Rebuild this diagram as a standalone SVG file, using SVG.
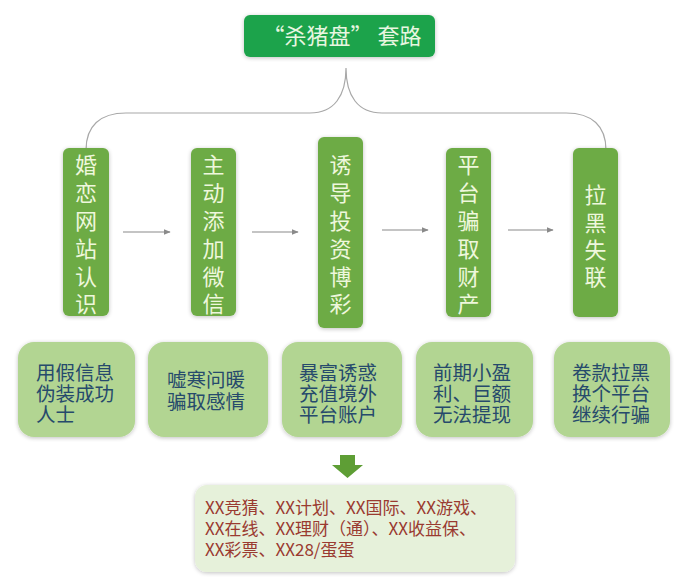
<svg xmlns="http://www.w3.org/2000/svg" width="696" height="578" viewBox="0 0 696 578">
<defs>
<marker id="ah" viewBox="0 0 10 10" refX="9" refY="5" markerWidth="7" markerHeight="7" orient="auto" markerUnits="userSpaceOnUse">
<path d="M0,1 L10,5 L0,9 Z" fill="#8a8a8a"/>
</marker>
<filter id="soft" x="-10%" y="-10%" width="120%" height="120%">
<feGaussianBlur in="SourceAlpha" stdDeviation="2"/>
<feOffset dx="0" dy="1"/>
<feComponentTransfer><feFuncA type="linear" slope="0.25"/></feComponentTransfer>
<feMerge><feMergeNode/><feMergeNode in="SourceGraphic"/></feMerge>
</filter>
</defs>
<style>
text{font-family:"Noto Sans CJK SC","Liberation Sans",sans-serif;}
.title{fill:#1fa34b;}
.step{fill:#6dab45;}
.vt{font-size:22px;fill:#eef7dc;text-anchor:middle;}
.desc{fill:#b2d592;}
.dt{font-size:19.5px;fill:#264a6c;text-anchor:middle;}
.conn{fill:none;stroke:#8a8a8a;stroke-width:1.2;}
.brace{fill:none;stroke:#a8a8a8;stroke-width:1.2;}
.list{fill:#e6f1da;}
.lt{font-size:17px;fill:#9a3a30;}
</style>
<rect width="696" height="578" fill="#ffffff"/>

<g id="title">
<rect class="title" x="244" y="15" width="191" height="42" rx="6" filter="url(#soft)"/>
<text x="342" y="44" font-size="22" fill="#e8f6e0" text-anchor="middle">“杀猪盘” 套路</text>
</g>

<g id="connectors">
<path class="brace" d="M86,150 C86,126 100,113 126,113 L310,113 C334,113 346,96 346,68 C346,96 358,113 382,113 L566,113 C592,113 606,126 606,150"/>
<line class="conn" x1="123" y1="232" x2="170" y2="232" marker-end="url(#ah)"/>
<line class="conn" x1="252" y1="232" x2="298" y2="232" marker-end="url(#ah)"/>
<line class="conn" x1="382" y1="230" x2="428" y2="230" marker-end="url(#ah)"/>
<line class="conn" x1="508" y1="230" x2="553" y2="230" marker-end="url(#ah)"/>
<path d="M340,455 L355,455 L355,465 L363,465 L347.5,478 L332,465 L340,465 Z" fill="#5e9e35"/>
</g>

<g id="step1">
<rect class="step" x="63" y="148" width="46" height="168" rx="6" filter="url(#soft)"/>
<text class="vt"><tspan x="86" y="173">婚</tspan><tspan x="86" y="201">恋</tspan><tspan x="86" y="229">网</tspan><tspan x="86" y="257">站</tspan><tspan x="86" y="285">认</tspan><tspan x="86" y="312">识</tspan></text>
</g>
<g id="step2">
<rect class="step" x="191" y="148" width="45" height="168" rx="6" filter="url(#soft)"/>
<text class="vt"><tspan x="213.5" y="173">主</tspan><tspan x="213.5" y="201">动</tspan><tspan x="213.5" y="229">添</tspan><tspan x="213.5" y="257">加</tspan><tspan x="213.5" y="285">微</tspan><tspan x="213.5" y="312">信</tspan></text>
</g>
<g id="step3">
<rect class="step" x="318" y="137" width="45" height="191" rx="6" filter="url(#soft)"/>
<text class="vt"><tspan x="340.5" y="173">诱</tspan><tspan x="340.5" y="201">导</tspan><tspan x="340.5" y="229">投</tspan><tspan x="340.5" y="257">资</tspan><tspan x="340.5" y="285">博</tspan><tspan x="340.5" y="312">彩</tspan></text>
</g>
<g id="step4">
<rect class="step" x="446" y="148" width="45" height="169" rx="6" filter="url(#soft)"/>
<text class="vt"><tspan x="468.5" y="173">平</tspan><tspan x="468.5" y="201">台</tspan><tspan x="468.5" y="229">骗</tspan><tspan x="468.5" y="257">取</tspan><tspan x="468.5" y="285">财</tspan><tspan x="468.5" y="312">产</tspan></text>
</g>
<g id="step5">
<rect class="step" x="573" y="148" width="45" height="169" rx="6" filter="url(#soft)"/>
<text class="vt"><tspan x="595.5" y="203">拉</tspan><tspan x="595.5" y="231">黑</tspan><tspan x="595.5" y="258">失</tspan><tspan x="595.5" y="285">联</tspan></text>
</g>

<g id="desc1">
<rect class="desc" x="18" y="342" width="117" height="95" rx="16" filter="url(#soft)"/>
<text class="dt"><tspan x="75" y="380">用假信息</tspan><tspan x="75" y="401">伪装成功</tspan><tspan x="55.5" y="422">人士</tspan></text>
</g>
<g id="desc2">
<rect class="desc" x="148" y="342" width="120" height="95" rx="16" filter="url(#soft)"/>
<text class="dt"><tspan x="206" y="387">嘘寒问暖</tspan><tspan x="206" y="409">骗取感情</tspan></text>
</g>
<g id="desc3">
<rect class="desc" x="282" y="342" width="120" height="95" rx="16" filter="url(#soft)"/>
<text class="dt"><tspan x="338" y="380">暴富诱惑</tspan><tspan x="338" y="401">充值境外</tspan><tspan x="338" y="422">平台账户</tspan></text>
</g>
<g id="desc4">
<rect class="desc" x="416" y="342" width="117" height="95" rx="16" filter="url(#soft)"/>
<text class="dt"><tspan x="472" y="380">前期小盈</tspan><tspan x="472" y="401">利、巨额</tspan><tspan x="472" y="422">无法提现</tspan></text>
</g>
<g id="desc5">
<rect class="desc" x="554" y="342" width="116" height="95" rx="16" filter="url(#soft)"/>
<text class="dt"><tspan x="611" y="380">卷款拉黑</tspan><tspan x="611" y="401">换个平台</tspan><tspan x="611" y="422">继续行骗</tspan></text>
</g>

<g id="platforms">
<rect class="list" x="195" y="485" width="320" height="87" rx="12" filter="url(#soft)"/>
<text class="lt"><tspan x="205" y="514">XX竞猜、XX计划、XX国际、XX游戏、</tspan><tspan x="205" y="535">XX在线、XX理财（通）、XX收益保、</tspan><tspan x="205" y="556">XX彩票、XX28/蛋蛋</tspan></text>
</g>
</svg>
